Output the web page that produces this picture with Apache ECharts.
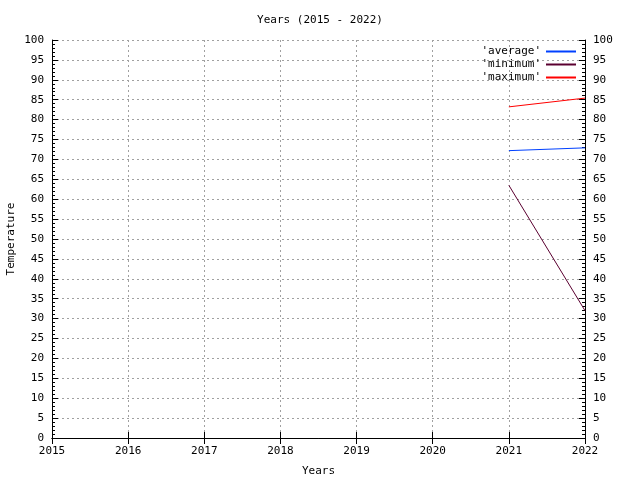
<!DOCTYPE html>
<html>
<head>
<meta charset="utf-8">
<script src="https://cdn.jsdelivr.net/npm/echarts@6/dist/echarts.min.js"></script>
<style>
  html, body { margin: 0; padding: 0; background: #fff; }
  #chart { width: 640px; height: 480px; }
</style>
</head>
<body>
<div id="chart"></div>
<script>
// values
const years = [2021, 2022];
const average = [72.2, 72.9];
const minimum = [63.5, 32.0];
const maximum = [83.2, 85.4];

const font = 'DejaVu Sans Mono';
const chart = echarts.init(document.getElementById('chart'));

const pairs = (vals) => years.map((y, i) => [y, vals[i]]);

const yAxisBase = {
  type: 'value',
  min: 0,
  max: 100,
  interval: 5,
  axisLine: { show: true, lineStyle: { color: '#000', width: 1 } },
  axisTick: { show: true, inside: true, length: 6, lineStyle: { color: '#000' } },
  minorTick: { show: true, splitNumber: 5, length: 3, lineStyle: { color: '#000' } },
  axisLabel: { color: '#000', fontFamily: font, fontSize: 11, margin: 8 }
};

const option = {
  animation: false,
  backgroundColor: '#fff',
  title: {
    text: 'Years (2015 - 2022)',
    left: 'center',
    top: 10,
    textStyle: { fontFamily: font, fontSize: 11, fontWeight: 'normal', color: '#000' }
  },
  grid: { left: 52, right: 55, top: 40, bottom: 42, outerBoundsMode: 'none' },
  legend: {
    orient: 'vertical',
    right: 59,
    top: 41,
    align: 'right',
    icon: 'rect',
    itemWidth: 30,
    itemHeight: 2,
    itemGap: 2,
    textStyle: { fontFamily: font, fontSize: 11, color: '#000' },
    data: ["'average'", "'minimum'", "'maximum'"]
  },
  xAxis: [
    {
      type: 'value',
      min: 2015,
      max: 2022,
      interval: 1,
      name: 'Years',
      nameLocation: 'middle',
      nameGap: 28,
      nameTextStyle: { fontFamily: font, fontSize: 11, color: '#000' },
      axisLine: { show: true, lineStyle: { color: '#000' } },
      axisTick: { show: true, inside: true, length: 6, lineStyle: { color: '#000' } },
      axisLabel: { color: '#000', fontFamily: font, fontSize: 11, margin: 8, formatter: (v) => String(v) },
      splitLine: { show: true, lineStyle: { color: '#a0a0a0', type: [2, 3] } }
    },
    {
      type: 'value',
      position: 'top',
      min: 2015,
      max: 2022,
      interval: 1,
      axisLine: { show: true, lineStyle: { color: '#000' } },
      axisTick: { show: true, inside: true, length: 6, lineStyle: { color: '#000' } },
      axisLabel: { show: false },
      splitLine: { show: false }
    }
  ],
  yAxis: [
    Object.assign({}, yAxisBase, {
      position: 'left',
      name: 'Temperature',
      nameLocation: 'middle',
      nameGap: 35,
      nameMoveOverlap: false,
      nameTextStyle: { fontFamily: font, fontSize: 11, color: '#000' },
      splitLine: { show: true, lineStyle: { color: '#a0a0a0', type: [2, 3] } }
    }),
    Object.assign({}, yAxisBase, {
      position: 'right',
      splitLine: { show: false }
    })
  ],
  series: [
    {
      name: "'average'",
      type: 'line',
      data: pairs(average),
      showSymbol: false,
      itemStyle: { color: '#0040ff' },
      lineStyle: { color: '#0040ff', width: 1 }
    },
    {
      name: "'minimum'",
      type: 'line',
      data: pairs(minimum),
      showSymbol: false,
      itemStyle: { color: '#5a0030' },
      lineStyle: { color: '#5a0030', width: 1 }
    },
    {
      name: "'maximum'",
      type: 'line',
      data: pairs(maximum),
      showSymbol: false,
      itemStyle: { color: '#ff0000' },
      lineStyle: { color: '#ff0000', width: 1 }
    }
  ]
};

chart.setOption(option);
</script>
</body>
</html>
